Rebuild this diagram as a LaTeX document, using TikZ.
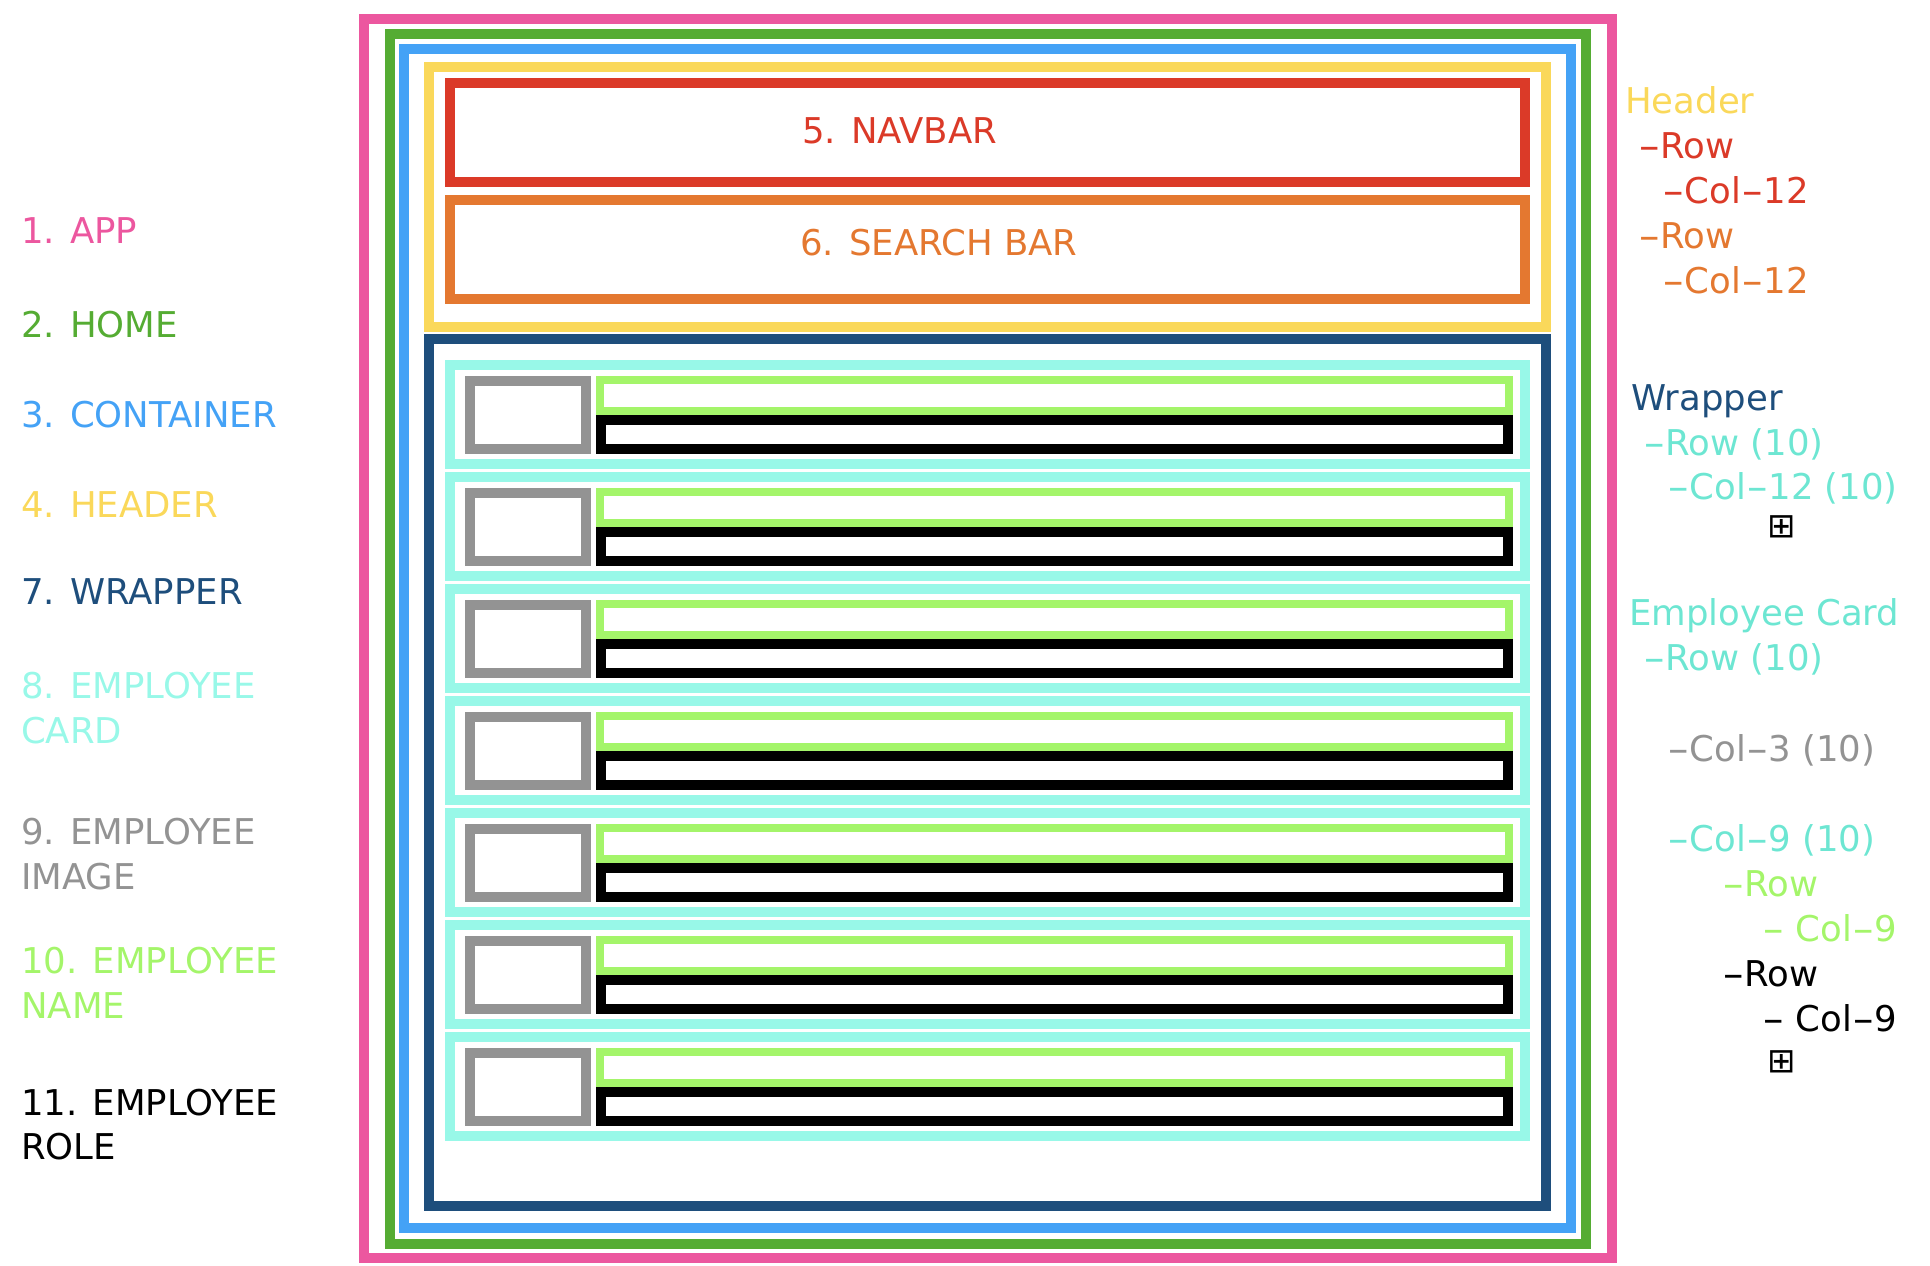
\documentclass[tikz,border=0pt]{standalone}
\usepackage{fontspec}
\setmainfont{DejaVu Sans}
\definecolor{cpink}{HTML}{EC579F}
\definecolor{cgreen}{HTML}{55AC33}
\definecolor{cblue}{HTML}{44A2F6}
\definecolor{cyellow}{HTML}{FAD85A}
\definecolor{cred}{HTML}{DB3A28}
\definecolor{corange}{HTML}{E47830}
\definecolor{cdark}{HTML}{1E4E7C}
\definecolor{ccyan}{HTML}{98F8E8}
\definecolor{cturq}{HTML}{6DE6D2}
\definecolor{cgray}{HTML}{939393}
\definecolor{clime}{HTML}{A4F56A}
\newcommand\lbfont{\fontsize{35.5}{43.5}\selectfont}
\newcommand\hy{\scalebox{1.75}[1]{-}}
\tikzset{
  frame/.style={line width=10pt},
  thinframe/.style={line width=8pt},
  lbl/.style={anchor=base west, inner sep=0pt, font=\lbfont},
  boxplus/.style={anchor=center, inner sep=0pt, font=\fontsize{34}{34}\selectfont},
}
\begin{document}
\begin{tikzpicture}[x=1pt,y=-1pt]
\useasboundingbox (0,0) rectangle (1930,1266);
% outer frames
\draw[frame, cpink] (364,19) rectangle (1612,1258);
\draw[frame, cgreen] (390,34) rectangle (1586,1244);
\draw[frame, cblue] (404,49) rectangle (1571,1228);
\draw[frame, cyellow] (429,67) rectangle (1546,327);
\draw[frame, cred] (450,83) rectangle (1525,182);
\draw[frame, corange] (450,200) rectangle (1525,299);
\draw[frame, cdark] (429,339) rectangle (1546,1206);
% employee cards
\foreach \k in {0,...,6}{
  \pgfmathsetmacro\T{365+112*\k}
  \draw[frame, ccyan] (450,\T) rectangle (1525,\T+99);
  \draw[frame, cgray] (470,\T+16) rectangle (586,\T+83.5);
  \draw[thinframe, clime] (600,\T+15) rectangle (1509,\T+45.5);
  \draw[frame, black] (601,\T+54.5) rectangle (1508,\T+83.5);
}
% box titles
\node[lbl, text=cred] (tnav) at (802,143) {5. NAVBAR};
\node[lbl, text=corange] (tsearch) at (800,255) {6. SEARCH BAR};
% left legend
\node[lbl, text=cpink] (l1) at (21,243) {1. APP};
\node[lbl, text=cgreen] (l2) at (21,337) {2. HOME};
\node[lbl, text=cblue] (l3) at (21,427) {3. CONTAINER};
\node[lbl, text=cyellow] (l4) at (21,517) {4. HEADER};
\node[lbl, text=cdark] (l7) at (21,604) {7. WRAPPER};
\node[lbl, text=ccyan] (l8a) at (21,698) {8. EMPLOYEE};
\node[lbl, text=ccyan] (l8b) at (21,743) {CARD};
\node[lbl, text=cgray] (l9a) at (21,844) {9. EMPLOYEE};
\node[lbl, text=cgray] (l9b) at (21,889) {IMAGE};
\node[lbl, text=clime] (l10a) at (21,973) {10. EMPLOYEE};
\node[lbl, text=clime] (l10b) at (21,1018) {NAME};
\node[lbl, text=black] (l11a) at (21,1115) {11. EMPLOYEE};
\node[lbl, text=black] (l11b) at (21,1159) {ROLE};
% right structure notes
\node[lbl, text=cyellow] (r1) at (1625,113) {Header};
\node[lbl, text=cred] (r2) at (1638,158) {\hy Row};
\node[lbl, text=cred] (r3) at (1662,203) {\hy Col\hy 12};
\node[lbl, text=corange] (r4) at (1638,248) {\hy Row};
\node[lbl, text=corange] (r5) at (1662,293) {\hy Col\hy 12};
\node[lbl, text=cdark] (r6) at (1631,410) {Wrapper};
\node[lbl, text=cturq] (r7) at (1643,455) {\hy Row (10)};
\node[lbl, text=cturq] (r8) at (1667,499) {\hy Col\hy 12 (10)};
\node[boxplus] (p1) at (1782,527) {⊞};
\node[lbl, text=cturq] (r9) at (1629,625) {Employee Card};
\node[lbl, text=cturq] (r10) at (1643,670) {\hy Row (10)};
\node[lbl, text=cgray] (r11) at (1667,761) {\hy Col\hy 3 (10)};
\node[lbl, text=cturq] (r12) at (1667,851) {\hy Col\hy 9 (10)};
\node[lbl, text=clime] (r13) at (1722,896) {\hy Row};
\node[lbl, text=clime] (r14) at (1762,941) {\hy{} Col\hy 9};
\node[lbl, text=black] (r15) at (1722,986) {\hy Row};
\node[lbl, text=black] (r16) at (1762,1031) {\hy{} Col\hy 9};
\node[boxplus] (p2) at (1782,1062) {⊞};
\end{tikzpicture}
\end{document}
